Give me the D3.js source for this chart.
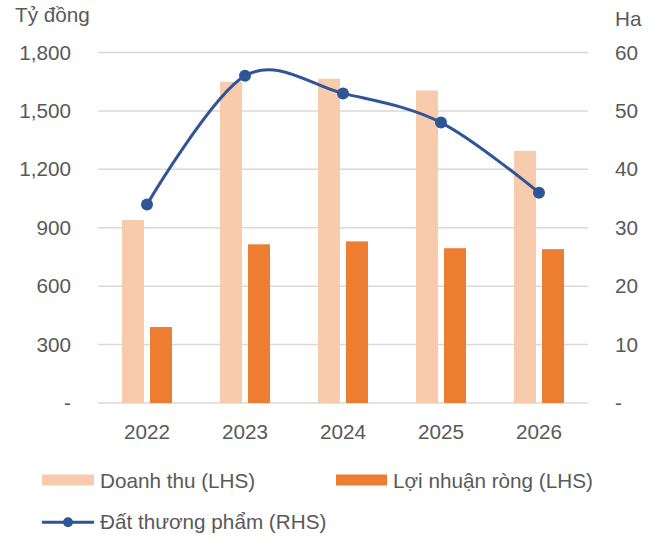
<!DOCTYPE html>
<html>
<head>
<meta charset="utf-8">
<script src="https://cdn.jsdelivr.net/npm/d3@7"></script>
<style>
  body { margin: 0; background: #fff; }
  svg text { font-family: "Liberation Sans", Arial, sans-serif; fill: #595959; }
</style>
</head>
<body>
<div id="chart"></div>
<script>
// du lieu
var years = ['2022', '2023', '2024', '2025', '2026'];
var doanhThu = [940, 1650, 1665, 1605, 1295];
var loiNhuan = [390, 815, 830, 795, 790];
var datThuongPham = [34, 56, 53, 48, 36];
var leftTicks = [0, 300, 600, 900, 1200, 1500, 1800];
var rightTicks = [0, 10, 20, 30, 40, 50, 60];

var W = 654, H = 539;
var plot = { left: 98, right: 588, top: 52.5, bottom: 403 };
var fontSize = 20.7;

var svg = d3.select('#chart')
    .append('svg')
    .attr('width', W)
    .attr('height', H);

var xScale = d3.scaleBand()
    .domain(years)
    .range([plot.left, plot.right]);

var yLeft = d3.scaleLinear()
    .domain([0, 1800])
    .range([plot.bottom, plot.top]);

var yRight = d3.scaleLinear()
    .domain([0, 60])
    .range([plot.bottom, plot.top]);

function fmt(v) {
    return v == 0 ? '-' : d3.format(',')(v);
}

// luoi
svg.append('g')
    .selectAll('line')
    .data(leftTicks)
    .enter()
    .append('line')
    .attr('x1', plot.left)
    .attr('x2', plot.right)
    .attr('y1', d => yLeft(d))
    .attr('y2', d => yLeft(d))
    .style('stroke', '#d9d9d9')
    .style('stroke-width', 1.5);

// truc trai
var axisL = svg.append('g')
    .attr('transform', 'translate(71,0)')
    .call(d3.axisLeft(yLeft).tickValues(leftTicks).tickFormat(fmt).tickSize(0).tickPadding(0));
axisL.select('.domain').remove();
axisL.selectAll('text')
    .style('font-size', fontSize + 'px')
    .attr('fill', '#595959');

// truc phai
var axisR = svg.append('g')
    .attr('transform', 'translate(615,0)')
    .call(d3.axisRight(yRight).tickValues(rightTicks).tickFormat(fmt).tickSize(0).tickPadding(0));
axisR.select('.domain').remove();
axisR.selectAll('text')
    .style('font-size', fontSize + 'px')
    .attr('fill', '#595959');

// truc x
var axisX = svg.append('g')
    .attr('transform', 'translate(0,' + plot.bottom + ')')
    .call(d3.axisBottom(xScale).tickSize(0).tickPadding(0));
axisX.select('.domain').remove();
axisX.selectAll('text')
    .attr('dy', null)
    .attr('y', 36)
    .style('font-size', fontSize + 'px')
    .attr('fill', '#595959');

// don vi
svg.append('text')
    .attr('x', 15)
    .attr('y', 22)
    .style('font-size', fontSize + 'px')
    .text('Tỷ đồng');
svg.append('text')
    .attr('x', 615)
    .attr('y', 25.5)
    .style('font-size', fontSize + 'px')
    .text('Ha');

var barW = 22;
var center = d => xScale(d) + xScale.bandwidth() / 2;

// cot doanh thu
svg.append('g')
    .selectAll('rect')
    .data(years)
    .enter()
    .append('rect')
    .attr('x', d => center(d) - 25)
    .attr('width', barW)
    .attr('y', (d, i) => yLeft(doanhThu[i]))
    .attr('height', (d, i) => yLeft(0) - yLeft(doanhThu[i]))
    .style('fill', '#f8cbad');

// cot loi nhuan
svg.append('g')
    .selectAll('rect')
    .data(years)
    .enter()
    .append('rect')
    .attr('x', d => center(d) + 3)
    .attr('width', barW)
    .attr('y', (d, i) => yLeft(loiNhuan[i]))
    .attr('height', (d, i) => yLeft(0) - yLeft(loiNhuan[i]))
    .style('fill', '#ed7d31');

// duong dat thuong pham
var line = d3.line()
    .x((d, i) => center(years[i]))
    .y(d => yRight(d))
    .curve(d3.curveCardinal.tension(0));

svg.append('path')
    .datum(datThuongPham)
    .attr('d', line)
    .style('fill', 'none')
    .style('stroke', '#2f5597')
    .style('stroke-width', 3);

svg.append('g')
    .selectAll('circle')
    .data(datThuongPham)
    .enter()
    .append('circle')
    .attr('cx', (d, i) => center(years[i]))
    .attr('cy', d => yRight(d))
    .attr('r', 6)
    .style('fill', '#2f5597');

// chu thich
var legend = svg.append('g');
legend.append('rect')
    .attr('x', 42).attr('y', 474.5).attr('width', 52).attr('height', 11)
    .style('fill', '#f8cbad');
legend.append('text')
    .attr('x', 100).attr('y', 488)
    .style('font-size', fontSize + 'px')
    .text('Doanh thu (LHS)');
legend.append('rect')
    .attr('x', 336).attr('y', 474.5).attr('width', 51).attr('height', 11)
    .style('fill', '#ed7d31');
legend.append('text')
    .attr('x', 393).attr('y', 488)
    .style('font-size', fontSize + 'px')
    .text('Lợi nhuận ròng (LHS)');
legend.append('line')
    .attr('x1', 42).attr('x2', 94).attr('y1', 522.3).attr('y2', 522.3)
    .style('stroke', '#2f5597')
    .style('stroke-width', 3);
legend.append('circle')
    .attr('cx', 68).attr('cy', 522.3).attr('r', 5)
    .style('fill', '#2f5597');
legend.append('text')
    .attr('x', 100).attr('y', 529)
    .style('font-size', fontSize + 'px')
    .text('Đất thương phẩm (RHS)');
</script>
</body>
</html>
